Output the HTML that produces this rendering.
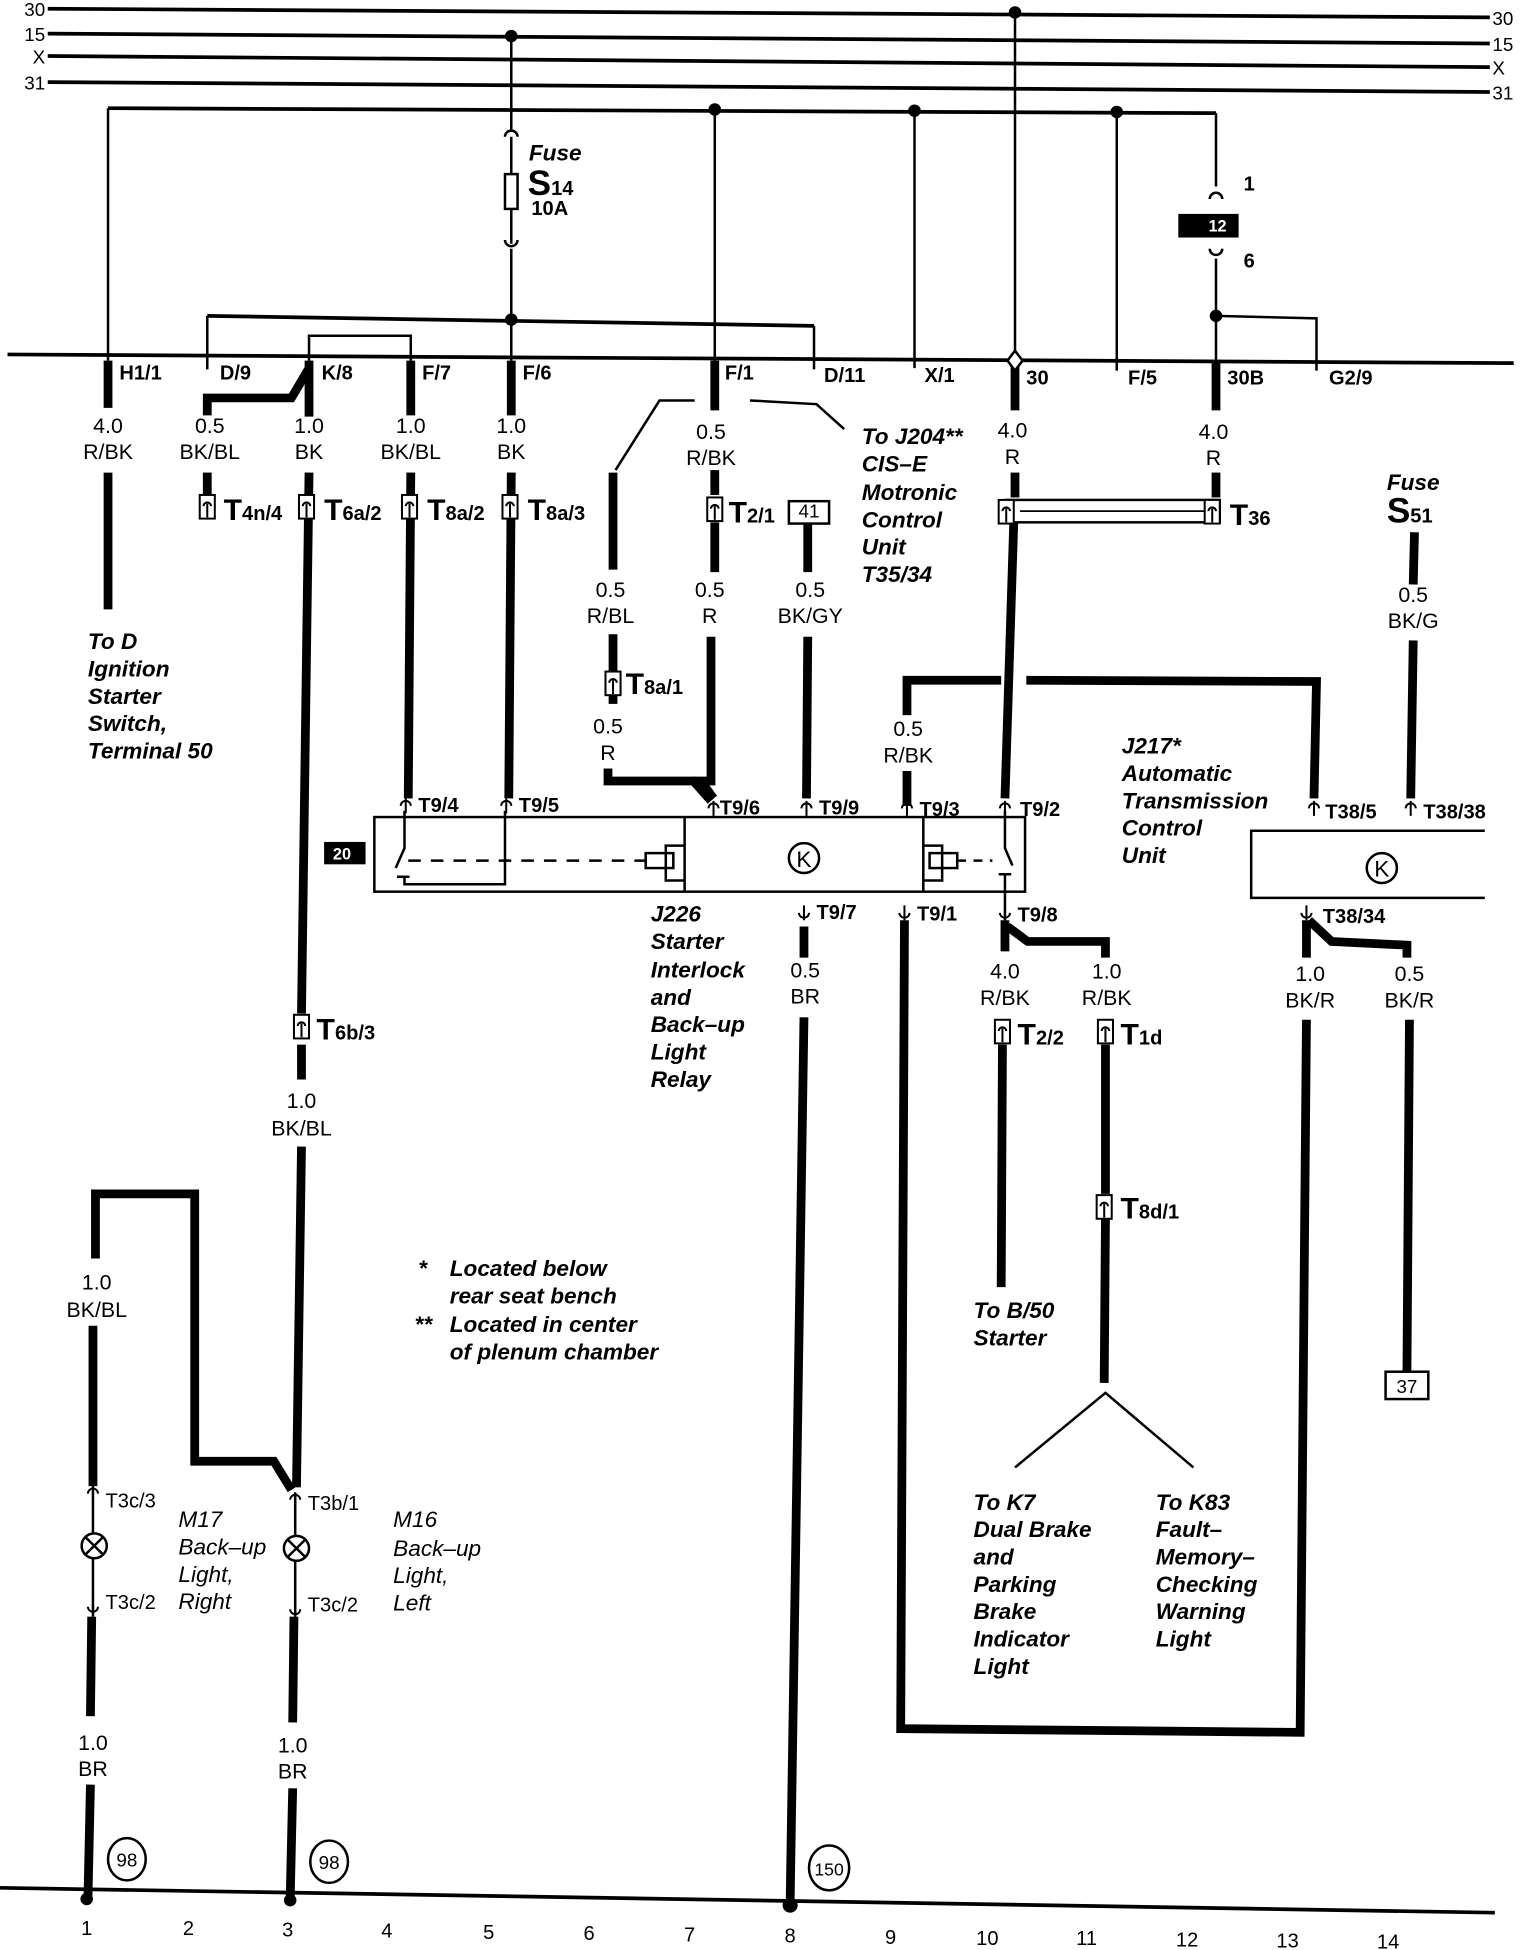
<!DOCTYPE html>
<html><head><meta charset="utf-8"><style>
html,body{margin:0;padding:0;background:#fff;}
svg{display:block;}
text{font-family:"Liberation Sans",sans-serif;fill:#000;}
.l{font-size:17px;text-anchor:middle;}
.p{font-size:16px;font-weight:bold;}
.i{font-size:18px;font-weight:bold;font-style:italic;}
.T{font-size:24px;font-weight:bold;}
.s{font-size:16px;font-weight:bold;}
</style></head><body>
<svg width="1520" height="1950" viewBox="0 0 1210 1568" preserveAspectRatio="none" xmlns="http://www.w3.org/2000/svg">
<defs>
<g id="c"><rect x="-6" y="0" width="12" height="19" fill="#fff" stroke="#000" stroke-width="1.6"/><path d="M0,18 V7 M-3,9 A3,3 0 0 1 3,9" fill="none" stroke="#000" stroke-width="1.6"/></g>
<g id="u"><path d="M0,12 V0 M-4,6 A4,4 0 0 1 4,6" fill="none" stroke="#000" stroke-width="1.6"/></g>
<g id="d"><path d="M0,-12 V0 M-4,-6 A4,4 0 0 0 4,-6" fill="none" stroke="#000" stroke-width="1.6"/></g>
</defs>
<g stroke="#000" fill="none">
<g stroke-width="3">
<line x1="38" y1="7" x2="1186" y2="14"/>
<line x1="38" y1="27" x2="1186" y2="35"/>
<line x1="38" y1="45" x2="1186" y2="54"/>
<line x1="38" y1="66" x2="1186" y2="74"/>
<line x1="86" y1="87" x2="968" y2="91"/>
<line x1="6" y1="285" x2="1205" y2="292"/>
<line x1="165" y1="254" x2="648" y2="262"/>
</g>
<g stroke-width="2">
<line x1="86" y1="87" x2="86" y2="290"/>
<line x1="968" y1="91" x2="968" y2="150"/>
<line x1="569" y1="88" x2="569" y2="290"/>
<line x1="728" y1="89" x2="728" y2="296"/>
<line x1="889" y1="90" x2="889" y2="298"/>
<line x1="808" y1="10" x2="808" y2="288"/>
<line x1="407" y1="29" x2="407" y2="104"/>
<line x1="407" y1="200" x2="407" y2="290"/>
<line x1="407" y1="110" x2="407" y2="140"/><line x1="407" y1="168" x2="407" y2="196"/>
<rect x="402" y="140" width="10" height="28"/>
<line x1="165" y1="254" x2="165" y2="297"/>
<line x1="648" y1="262" x2="648" y2="297"/>
<polyline points="246,290 246,270 327,270 327,290"/>
<line x1="968" y1="208" x2="968" y2="290"/>
<polyline points="968,254 1048,256 1048,298"/>
<path d="M963,160 A5,5 0 0 1 973,160 M963,200 A5,5 0 0 0 973,200"/>
<path d="M402,110 A5,5 0 0 1 412,110 M402,193 A5,5 0 0 0 412,193"/>
<polyline points="490,378 525,322 553,322"/>
<polyline points="597,322 650,325 672,345"/>
<polyline points="808,1180 880,1120 950,1180"/>
</g>
<g stroke-width="7">
<line x1="86" y1="290" x2="86" y2="328"/><line x1="86" y1="380" x2="86" y2="490"/>
<polyline points="165,334 165,320 232,320 246,296"/><line x1="246" y1="290" x2="246" y2="335"/>
<line x1="327" y1="290" x2="327" y2="334"/><line x1="407" y1="290" x2="407" y2="334"/>
<line x1="165" y1="380" x2="165" y2="398"/>
<line x1="246" y1="380" x2="240" y2="815"/><line x1="240" y1="840" x2="240" y2="868"/><line x1="240" y1="922" x2="236" y2="1196"/>
<line x1="327" y1="380" x2="325" y2="642"/><line x1="407" y1="380" x2="405" y2="642"/>
<line x1="569" y1="290" x2="569" y2="330"/><line x1="569" y1="378" x2="569" y2="398"/><line x1="569" y1="420" x2="569" y2="460"/>
<polyline points="566,512 566,628 558,628 568,642"/>
<line x1="488" y1="380" x2="488" y2="458"/><line x1="488" y1="510" x2="488" y2="540"/><line x1="488" y1="558" x2="488" y2="566"/>
<polyline points="484,618 484,628 552,628 566,644"/>
<line x1="643" y1="421" x2="643" y2="460"/><line x1="643" y1="512" x2="642" y2="642"/>
<line x1="808" y1="290" x2="808" y2="330"/><line x1="808" y1="380" x2="808" y2="400"/>
<line x1="807" y1="420" x2="800" y2="642"/>
<line x1="968" y1="290" x2="968" y2="330"/><line x1="968" y1="380" x2="968" y2="400"/>
<line x1="1126" y1="428" x2="1125" y2="470"/><line x1="1125" y1="515" x2="1123" y2="642"/>
<polyline points="722,575 722,547 797,547"/><line x1="722" y1="620" x2="722" y2="648"/><polyline points="817,547 1048,548 1046,642"/>
<line x1="640" y1="745" x2="640" y2="770"/><line x1="640" y1="818" x2="629" y2="1530"/>
<polyline points="720,740 717,1390 1035,1393 1040,820"/>
<polyline points="800,740 800,765"/><polyline points="802,745 818,757 880,757 880,770"/>
<line x1="798" y1="840" x2="797" y2="1035"/>
<line x1="880" y1="840" x2="880" y2="960"/><line x1="880" y1="980" x2="879" y2="1112"/>
<polyline points="1040,740 1040,770"/><polyline points="1042,740 1060,757 1120,760 1120,770"/>
<line x1="1122" y1="820" x2="1120" y2="1103"/>
<polyline points="232,1198 218,1175 155,1175 155,960 76,960 76,1012"/>
<line x1="74" y1="1066" x2="74" y2="1195"/>
<line x1="73" y1="1300" x2="72" y2="1380"/><line x1="72" y1="1435" x2="70" y2="1527"/>
<line x1="234" y1="1300" x2="233" y2="1385"/><line x1="233" y1="1438" x2="231" y2="1527"/>
</g>
<g stroke-width="2">
<line x1="74" y1="1195" x2="74" y2="1233"/><line x1="74" y1="1253" x2="74" y2="1300"/>
<line x1="235" y1="1200" x2="235" y2="1235"/><line x1="235" y1="1255" x2="235" y2="1300"/>
<circle cx="75" cy="1243" r="10"/><path d="M68,1236 L82,1250 M82,1236 L68,1250"/>
<circle cx="236" cy="1245" r="10"/><path d="M229,1238 L243,1252 M243,1238 L229,1252"/>
</g>
<line x1="0" y1="1518" x2="1190" y2="1538" stroke-width="3"/>
<rect x="801" y="402" width="170" height="18" stroke-width="2"/>
<line x1="812" y1="411" x2="960" y2="411" stroke-width="1.5"/>
<g stroke-width="2">
<rect x="298" y="657" width="518" height="60"/>
<line x1="545" y1="657" x2="545" y2="717"/><line x1="735" y1="657" x2="735" y2="717"/>
<polyline points="322,652 322,682 315,698"/><line x1="316" y1="705" x2="326" y2="705"/>
<polyline points="322,705 322,711 402,711 402,652"/>
<line x1="325" y1="692" x2="515" y2="692" stroke-dasharray="10,8"/>
<rect x="514" y="686" width="22" height="12"/><polyline points="545,680 530,680 530,708 545,708"/>
<circle cx="640" cy="690" r="12"/>
<rect x="740" y="686" width="22" height="12"/><polyline points="735,680 750,680 750,708 735,708"/>
<line x1="762" y1="692" x2="790" y2="692" stroke-dasharray="7,6"/>
<polyline points="800,652 800,682 806,696"/><line x1="795" y1="703" x2="805" y2="703"/><line x1="800" y1="703" x2="800" y2="740"/>
<polyline points="1182,668 996,668 996,722 1182,722"/>
<circle cx="1100" cy="698" r="12"/>
<rect x="628" y="403" width="32" height="18"/>
<rect x="1103" y="1103" width="34" height="22"/>
<ellipse cx="101" cy="1495" rx="15" ry="17"/><ellipse cx="262" cy="1497" rx="15" ry="17"/><ellipse cx="660" cy="1502" rx="16" ry="18"/>
</g>
</g>
<text x="640" y="697" class="l" style="font-size:18px">K</text>
<text x="1100" y="705" class="l" style="font-size:18px">K</text>
<g fill="#000">
<circle cx="808" cy="10" r="5"/><circle cx="407" cy="29" r="5"/>
<circle cx="569" cy="88" r="5"/><circle cx="728" cy="89" r="5"/><circle cx="889" cy="90" r="5"/>
<circle cx="407" cy="257" r="5"/><circle cx="968" cy="254" r="5"/>
<circle cx="69" cy="1527" r="5"/><circle cx="231" cy="1528" r="5"/><circle cx="629" cy="1532" r="6"/>
<rect x="938" y="172" width="48" height="19"/><rect x="258" y="677" width="33" height="18"/>
</g>
<path d="M808,282 L814,290 L808,298 L802,290 Z" fill="#fff" stroke="#000" stroke-width="2"/>
<text x="962" y="186" class="p" style="fill:#fff;font-size:13px">12</text>
<text x="265" y="691" class="p" style="fill:#fff;font-size:13px">20</text>
<use href="#c" x="165" y="398"/><use href="#c" x="244" y="398"/><use href="#c" x="326" y="398"/><use href="#c" x="406" y="398"/>
<use href="#c" x="569" y="400"/><use href="#c" x="488" y="540"/><use href="#c" x="801" y="402"/><use href="#c" x="965" y="402"/>
<use href="#c" x="240" y="816"/><use href="#c" x="798" y="820"/><use href="#c" x="880" y="820"/><use href="#c" x="879" y="961"/>
<use href="#u" x="323" y="642"/><use href="#u" x="403" y="642"/><use href="#u" x="568" y="644"/><use href="#u" x="642" y="644"/>
<use href="#u" x="722" y="644"/><use href="#u" x="800" y="644"/><use href="#u" x="1046" y="644"/><use href="#u" x="1123" y="644"/>
<use href="#u" x="74" y="1195"/><use href="#u" x="235" y="1200"/>
<use href="#d" x="640" y="740"/><use href="#d" x="720" y="740"/><use href="#d" x="800" y="740"/><use href="#d" x="1040" y="740"/>
<use href="#d" x="74" y="1298"/><use href="#d" x="235" y="1300"/>
<g style="font-size:15px">
<text x="36" y="13" text-anchor="end">30</text><text x="36" y="33" text-anchor="end">15</text>
<text x="36" y="51" text-anchor="end">X</text><text x="36" y="72" text-anchor="end">31</text>
<text x="1188" y="20">30</text><text x="1188" y="41">15</text><text x="1188" y="60">X</text><text x="1188" y="80">31</text>
</g>
<g class="p">
<text x="95" y="305">H1/1</text><text x="175" y="305">D/9</text><text x="256" y="305">K/8</text>
<text x="336" y="305">F/7</text><text x="416" y="305">F/6</text><text x="577" y="305">F/1</text>
<text x="656" y="307">D/11</text><text x="736" y="307">X/1</text><text x="817" y="309">30</text>
<text x="898" y="309">F/5</text><text x="977" y="309">30B</text><text x="1058" y="309">G2/9</text>
<text x="990" y="153">1</text><text x="990" y="215">6</text>
<text x="333" y="653">T9/4</text><text x="413" y="653">T9/5</text><text x="573" y="655">T9/6</text>
<text x="652" y="655">T9/9</text><text x="732" y="656">T9/3</text><text x="812" y="656">T9/2</text>
<text x="1055" y="658">T38/5</text><text x="1133" y="658">T38/38</text>
<text x="650" y="739">T9/7</text><text x="730" y="740">T9/1</text><text x="810" y="741">T9/8</text>
<text x="1053" y="742">T38/34</text>
<text x="84" y="1212" style="font-weight:normal">T3c/3</text><text x="245" y="1214" style="font-weight:normal">T3b/1</text>
<text x="84" y="1294" style="font-weight:normal">T3c/2</text><text x="245" y="1296" style="font-weight:normal">T3c/2</text>
</g>
<text x="178" y="418" class="T">T<tspan class="s">4n/4</tspan></text>
<text x="258" y="418" class="T">T<tspan class="s">6a/2</tspan></text>
<text x="340" y="418" class="T">T<tspan class="s">8a/2</tspan></text>
<text x="420" y="418" class="T">T<tspan class="s">8a/3</tspan></text>
<text x="580" y="420" class="T">T<tspan class="s">2/1</tspan></text>
<text x="498" y="558" class="T">T<tspan class="s">8a/1</tspan></text>
<text x="979" y="422" class="T">T<tspan class="s">36</tspan></text>
<text x="252" y="836" class="T">T<tspan class="s">6b/3</tspan></text>
<text x="810" y="840" class="T">T<tspan class="s">2/2</tspan></text>
<text x="892" y="840" class="T">T<tspan class="s">1d</tspan></text>
<text x="892" y="980" class="T">T<tspan class="s">8d/1</tspan></text>
<text x="420" y="157" class="T" style="font-size:28px">S<tspan class="s">14</tspan></text>
<text x="1104" y="420" class="T" style="font-size:28px">S<tspan class="s">51</tspan></text>
<text x="423" y="173" class="p">10A</text>
<g class="l">
<text x="86" y="348">4.0</text><text x="86" y="369">R/BK</text>
<text x="167" y="348">0.5</text><text x="167" y="369">BK/BL</text>
<text x="246" y="348">1.0</text><text x="246" y="369">BK</text>
<text x="327" y="348">1.0</text><text x="327" y="369">BK/BL</text>
<text x="407" y="348">1.0</text><text x="407" y="369">BK</text>
<text x="566" y="353">0.5</text><text x="566" y="374">R/BK</text>
<text x="806" y="352">4.0</text><text x="806" y="373">R</text>
<text x="966" y="353">4.0</text><text x="966" y="374">R</text>
<text x="486" y="480">0.5</text><text x="486" y="501">R/BL</text>
<text x="565" y="480">0.5</text><text x="565" y="501">R</text>
<text x="645" y="480">0.5</text><text x="645" y="501">BK/GY</text>
<text x="484" y="590">0.5</text><text x="484" y="611">R</text>
<text x="723" y="592">0.5</text><text x="723" y="613">R/BK</text>
<text x="1125" y="484">0.5</text><text x="1125" y="505">BK/G</text>
<text x="641" y="786">0.5</text><text x="641" y="807">BR</text>
<text x="800" y="787">4.0</text><text x="800" y="808">R/BK</text>
<text x="881" y="787">1.0</text><text x="881" y="808">R/BK</text>
<text x="1043" y="789">1.0</text><text x="1043" y="810">BK/R</text>
<text x="1122" y="789">0.5</text><text x="1122" y="810">BK/R</text>
<text x="240" y="891">1.0</text><text x="240" y="913">BK/BL</text>
<text x="77" y="1037">1.0</text><text x="77" y="1059">BK/BL</text>
<text x="74" y="1407">1.0</text><text x="74" y="1428">BR</text>
<text x="233" y="1409">1.0</text><text x="233" y="1430">BR</text>
<text x="644" y="416" style="font-size:15px">41</text>
<text x="1120" y="1120" style="font-size:15px">37</text>
<text x="101" y="1501" style="font-size:15px">98</text><text x="262" y="1503" style="font-size:15px">98</text><text x="660" y="1508" style="font-size:14px">150</text>
</g>
<g class="l" style="font-size:16px">
<text x="69" y="1556">1</text><text x="150" y="1556">2</text><text x="229" y="1557">3</text><text x="308" y="1558">4</text>
<text x="389" y="1559">5</text><text x="469" y="1560">6</text><text x="549" y="1561">7</text><text x="629" y="1562">8</text>
<text x="709" y="1563">9</text><text x="786" y="1564">10</text><text x="865" y="1564">11</text><text x="945" y="1565">12</text>
<text x="1025" y="1566">13</text><text x="1105" y="1567">14</text>
</g>
<g class="i">
<text x="421" y="129">Fuse</text><text x="1104" y="394">Fuse</text>
<text x="686" y="357">To J204**</text><text x="686" y="379">CIS–E</text><text x="686" y="402">Motronic</text><text x="686" y="424">Control</text><text x="686" y="446">Unit</text><text x="686" y="468">T35/34</text>
<text x="70" y="522">To D</text><text x="70" y="544">Ignition</text><text x="70" y="566">Starter</text><text x="70" y="588">Switch,</text><text x="70" y="610">Terminal 50</text>
<text x="893" y="606">J217*</text><text x="893" y="628">Automatic</text><text x="893" y="650">Transmission</text><text x="893" y="672">Control</text><text x="893" y="694">Unit</text>
<text x="518" y="741">J226</text><text x="518" y="763">Starter</text><text x="518" y="786">Interlock</text><text x="518" y="808">and</text><text x="518" y="830">Back–up</text><text x="518" y="852">Light</text><text x="518" y="874">Relay</text>
<text x="775" y="1060">To B/50</text><text x="775" y="1082">Starter</text>
<text x="333" y="1026">*</text><text x="358" y="1026">Located below</text><text x="358" y="1048">rear seat bench</text>
<text x="330" y="1071">**</text><text x="358" y="1071">Located in center</text><text x="358" y="1093">of plenum chamber</text>
<text x="775" y="1214">To K7</text><text x="775" y="1236">Dual Brake</text><text x="775" y="1258">and</text><text x="775" y="1280">Parking</text><text x="775" y="1302">Brake</text><text x="775" y="1324">Indicator</text><text x="775" y="1346">Light</text>
<text x="920" y="1214">To K83</text><text x="920" y="1236">Fault–</text><text x="920" y="1258">Memory–</text><text x="920" y="1280">Checking</text><text x="920" y="1302">Warning</text><text x="920" y="1324">Light</text>
<text x="142" y="1228" style="font-weight:normal">M17</text><text x="142" y="1250" style="font-weight:normal">Back–up</text><text x="142" y="1272" style="font-weight:normal">Light,</text><text x="142" y="1294" style="font-weight:normal">Right</text>
<text x="313" y="1228" style="font-weight:normal">M16</text><text x="313" y="1251" style="font-weight:normal">Back–up</text><text x="313" y="1273" style="font-weight:normal">Light,</text><text x="313" y="1295" style="font-weight:normal">Left</text>
</g>
</svg>
</body></html>
